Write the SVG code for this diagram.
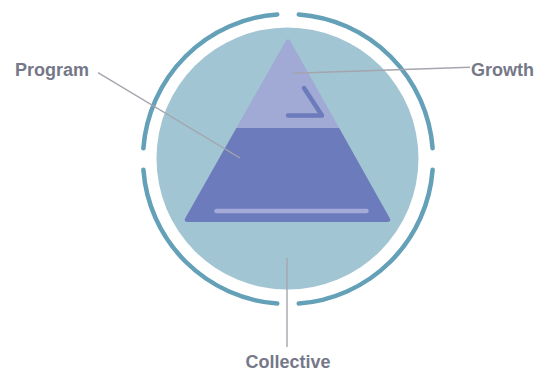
<svg xmlns="http://www.w3.org/2000/svg" width="546" height="371" viewBox="0 0 546 371">
  <style>
    .ring { fill: none; stroke: #64a0b8; stroke-width: 4.5; stroke-linecap: round; }
    .leader { fill: none; stroke: #a4a5ae; stroke-width: 1.4; }
    .label { font-family: "Liberation Sans", Arial, sans-serif; font-size: 18px; font-weight: bold; fill: #757889; }
  </style>
  <defs>
    <clipPath id="tri">
      <path d="M 285.5 41.35 Q 288 37 290.5 41.35 L 389.5 217.65 Q 392 222 387 222 L 188 222 Q 183 222 185.5 217.65 Z"/>
    </clipPath>
  </defs>
  <rect width="546" height="371" fill="#ffffff"/>

  <g id="collective">
    <path class="ring" d="M 298.75 14.4 A 145 145 0 0 1 432.6 148.25"/>
    <path class="ring" d="M 432.6 169.75 A 145 145 0 0 1 298.75 303.6"/>
    <path class="ring" d="M 277.25 303.6 A 145 145 0 0 1 143.4 169.75"/>
    <path class="ring" d="M 143.4 148.25 A 145 145 0 0 1 277.25 14.4"/>
    <circle cx="287.5" cy="158.5" r="131" fill="#a2c5d3"/>
  </g>

  <g id="pyramid">
    <g clip-path="url(#tri)">
      <rect x="180" y="30" width="220" height="98" fill="#a1a9d5"/>
      <rect x="180" y="128" width="220" height="100" fill="#6c7bbc"/>
    </g>
  </g>

  <g id="growth">
    <path d="M 304 88 L 322 115.5 L 288 115.5" fill="none" stroke="#6c7bbc" stroke-width="4.5" stroke-linecap="round" stroke-linejoin="round"/>
  </g>

  <g id="program">
    <line x1="216.5" y1="211" x2="366.5" y2="211" stroke="#a3aad8" stroke-width="4.5" stroke-linecap="round"/>
  </g>

  <g id="connectors">
    <line class="leader" x1="98" y1="72.7" x2="240" y2="158"/>
    <line class="leader" x1="293" y1="73.3" x2="470" y2="67.3"/>
    <line class="leader" x1="287" y1="258" x2="287" y2="347"/>
  </g>

  <g id="labels">
    <text class="label" x="15" y="76">Program</text>
    <text class="label" x="471" y="76">Growth</text>
    <text class="label" x="288" y="368" text-anchor="middle">Collective</text>
  </g>
</svg>
